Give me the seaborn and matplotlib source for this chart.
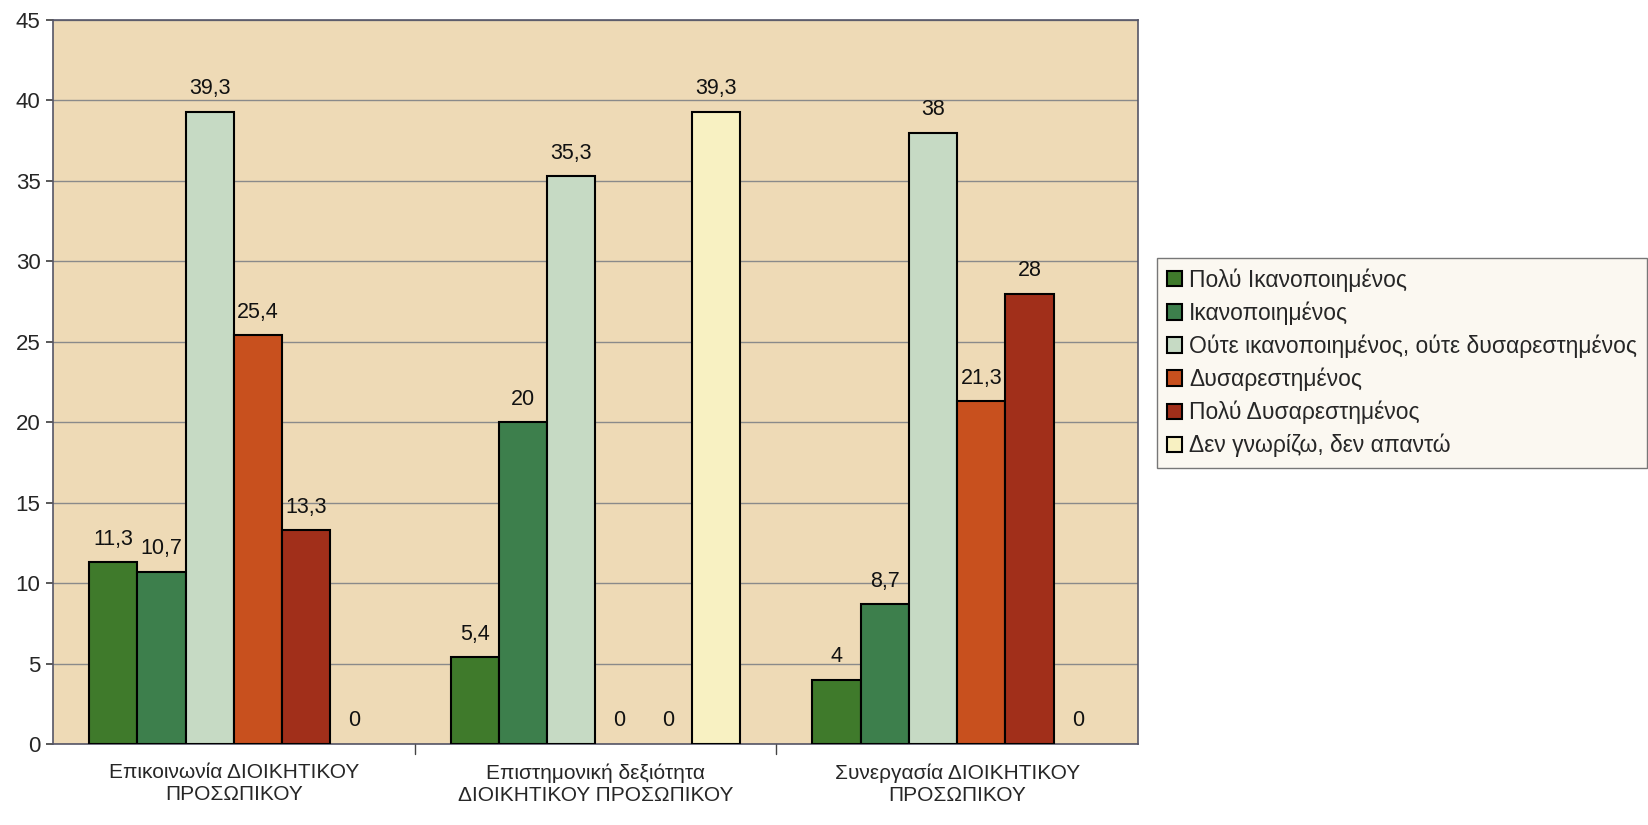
import matplotlib
matplotlib.use("Agg")
import matplotlib.pyplot as plt
import seaborn as sns
import pandas as pd

categories = ["Επικοινωνία ΔΙΟΙΚΗΤΙΚΟΥ\nΠΡΟΣΩΠΙΚΟΥ",
              "Επιστημονική δεξιότητα\nΔΙΟΙΚΗΤΙΚΟΥ ΠΡΟΣΩΠΙΚΟΥ",
              "Συνεργασία ΔΙΟΙΚΗΤΙΚΟΥ\nΠΡΟΣΩΠΙΚΟΥ"]
series = ["Πολύ Ικανοποιημένος", "Ικανοποιημένος",
          "Ούτε ικανοποιημένος, ούτε δυσαρεστημένος", "Δυσαρεστημένος",
          "Πολύ Δυσαρεστημένος", "Δεν γνωρίζω, δεν απαντώ"]
poly_ikan = [11.3, 5.4, 4]
ikan = [10.7, 20, 8.7]
oute = [39.3, 35.3, 38]
dysar = [25.4, 0, 21.3]
poly_dysar = [13.3, 0, 28]
den_gnorizo = [0, 39.3, 0]
values = [poly_ikan, ikan, oute, dysar, poly_dysar, den_gnorizo]
colors = ["#3F7A2B", "#3D7F4C", "#C6DAC4", "#C8501E", "#A12F1A", "#F8F1C2"]

rows = []
for s, vals in zip(series, values):
    for c, v in zip(categories, vals):
        rows.append({"cat": c, "series": s, "value": v})
df = pd.DataFrame(rows)

sns.set_theme(style="white")
plt.rcParams['font.family'] = ['Liberation Sans', 'DejaVu Sans']

fig = plt.figure(figsize=(16.49, 8.25), dpi=100)
fig.patch.set_facecolor("white")
ax = fig.add_axes([53/1649, 1 - 744/825, (1138-53)/1649, (744-20)/825])
ax.set_facecolor("#EEDAB6")

sns.barplot(data=df, x="cat", y="value", hue="series", palette=colors,
            hue_order=series, order=categories, width=0.8, ax=ax,
            edgecolor="black", linewidth=1.5, saturation=1, legend=True,
            zorder=3)

for cont in ax.containers:
    for b in cont:
        if b.get_height() == 0:
            b.set_linewidth(0)
    labels = [("%g" % b.get_height()).replace(".", ",") for b in cont]
    ax.bar_label(cont, labels=labels, padding=9, fontsize=15.5, color="#111111")

ax.set_ylim(0, 45)
ax.set_yticks(range(0, 46, 5))
ax.yaxis.grid(True, color="#8a8a8a", linewidth=1, zorder=0)
ax.set_axisbelow(True)
ax.set_xlabel("")
ax.set_ylabel("")
ax.tick_params(axis="y", labelsize=16, length=5, color="#444444", left=True, pad=4)
ax.tick_params(axis="x", labelsize=15, length=0, pad=14)
ax.set_xlim(-0.5, 2.5)
for xb in [0.5, 1.5]:
    ax.plot([xb, xb], [0, -0.6], color="#444444", lw=1, clip_on=False)
for sp in ax.spines.values():
    sp.set_color("#555566")
    sp.set_linewidth(1.2)
    sp.set_visible(True)

handles, labs = ax.get_legend_handles_labels()
leg = ax.legend(handles, labs, loc="upper left",
                bbox_to_anchor=(1157/1649, 1 - 258/825), bbox_transform=fig.transFigure,
                fontsize=16.5, frameon=True, fancybox=False, edgecolor="#777777",
                facecolor="#FBF8F1", framealpha=1, handlelength=0.65, handleheight=0.65,
                handletextpad=0.3, labelspacing=0.42, borderpad=0.45, borderaxespad=0)

fig.savefig("out.png", dpi=100, facecolor="white")
